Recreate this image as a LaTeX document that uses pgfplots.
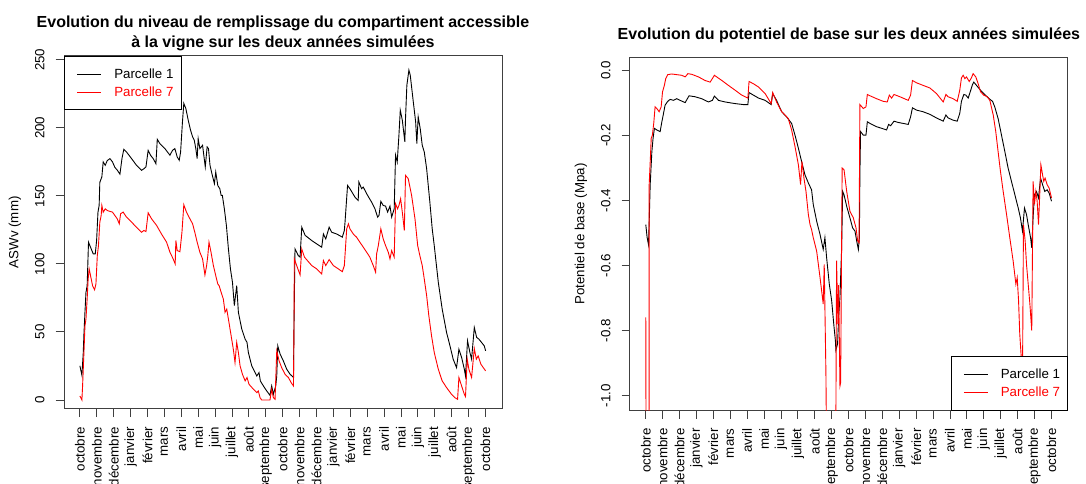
\documentclass[border=0pt]{standalone}
\usepackage{fontspec}
\setmainfont{Liberation Sans}
\usepackage{pgfplots}
\pgfplotsset{compat=1.18}
\newcommand{\fs}{\fontsize{13.3}{16}\selectfont}
\newcommand{\ft}{\fontsize{16}{20}\selectfont\bfseries}
\pgfplotsset{
 every axis title shift=0pt,
 rstyle/.style={
  scale only axis, width=438pt, height=353pt,
  xmin=-0.94, xmax=24.98,
  axis line style={black!75, line width=0.9pt},
  tick style={black!75, line width=0.9pt},
  tick align=outside, major tick length=8.3pt,
  xtick pos=left, ytick pos=left,
  xtick={0,...,24},
  xticklabels={octobre,novembre,décembre,janvier,février,mars,avril,mai,juin,juillet,août,septembre,octobre,novembre,décembre,janvier,février,mars,avril,mai,juin,juillet,août,septembre,octobre},
  xticklabel style={rotate=90, anchor=east, font=\fs, inner sep=0pt},
  yticklabel style={rotate=90, anchor=south, font=\fs, inner sep=0pt},
  xticklabel shift=9.6pt, yticklabel shift=10.9pt,
  ylabel style={font=\fs, inner sep=0pt, at={(axis description cs:-0.0973,0.5)}, anchor=south},
  legend style={draw=black, line width=0.8pt, fill=white, font=\fs,
    inner xsep=7.5pt, inner ysep=12.2pt, nodes={inner sep=0pt},
    row sep=6.9pt, column sep=12.4pt},
  legend cell align=left,
  legend image code/.code={\path (0pt,0pt); \draw[##1] (4.9pt,0pt)--(29.1pt,0pt);},
  every axis plot/.append style={line width=0.9pt},
 }
}
\begin{document}
\begin{tikzpicture}
\useasboundingbox (0,0) rectangle (1086pt,483pt);
\begin{axis}[rstyle, at={(64pt,74.2pt)}, anchor=south west,
  ymin=-6.5, ymax=253,
  ytick={0,50,100,150,200,250}, yticklabels={0,50,100,150,200,250},
  ylabel={ASWv (mm)},
  title={Evolution du niveau de remplissage du compartiment accessible\\à la vigne sur les deux années simulées},
  title style={font=\ft, align=center, inner sep=0pt, at={(0.5,1)}, anchor=south, yshift=4.9pt},
  legend style={at={(0,1)}, anchor=north west}]
\addplot[black] coordinates {
(0.0,25.1) (0.12,18.2) (0.20,34.9) (0.24,48.4) (0.30,64.4) (0.36,79.1) (0.43,84.0) (0.51,116) (0.59,113.5) (0.79,107.4) (0.91,107.4) (0.99,117.2) (1.07,138) (1.14,143) (1.18,160) (1.30,164) (1.38,175) (1.50,172.5) (1.62,176) (1.78,177.4) (1.93,175) (2.07,171) (2.21,169) (2.37,166) (2.49,177.4) (2.60,184.3) (2.76,182.3) (3.06,177.4) (3.35,172.5) (3.65,168.8) (3.79,170) (3.91,171.3) (4.04,183.5) (4.18,179.9) (4.34,177.4) (4.50,173.7) (4.58,191.6) (4.73,188.5) (5.03,184.8) (5.33,179.9) (5.48,183.5) (5.62,184.8) (5.76,178.6) (5.88,176.2) (5.96,182.3) (6.07,204.4) (6.15,218) (6.27,214.3) (6.41,205.7) (6.55,198.3) (6.67,193.4) (6.77,190.9) (6.86,184.8) (6.94,177.4) (7.00,192.1) (7.10,184.8) (7.26,187.2) (7.42,171.3) (7.53,186) (7.61,184.8) (7.70,172.5) (7.84,165) (7.96,159) (8.04,167.6) (8.16,157.7) (8.28,155.3) (8.36,150.4) (8.43,150.4) (8.55,140.5) (8.67,128.3) (8.79,111) (8.91,96.3) (9.03,86.5) (9.14,69.3) (9.28,84) (9.38,64.4) (9.58,52.1) (9.78,44.7) (9.89,42.3) (9.97,34.9) (10.17,25.1) (10.47,17.7) (10.60,20.1) (10.68,14) (10.86,10.3) (11.06,6.6) (11.25,3.4) (11.35,10.3) (11.45,4.2) (11.59,10.3) (11.65,17.7) (11.71,39.8) (11.85,33.7) (12.04,28.7) (12.24,22.6) (12.44,18.9) (12.64,16.5) (12.67,54.5) (12.73,111) (12.93,106) (13.03,105) (13.13,127) (13.33,121) (13.72,117.2) (14.02,114.7) (14.31,112.3) (14.41,122) (14.55,118.4) (14.75,127) (14.90,123.3) (15.20,122) (15.53,119.7) (15.65,124.6) (15.69,130.7) (15.84,157.7) (15.98,155.3) (16.28,149.1) (16.47,146.7) (16.51,160.2) (16.67,155.3) (16.77,156.5) (16.97,151.6) (17.26,145.5) (17.46,140.5) (17.62,134.4) (17.70,135.6) (17.81,146) (17.95,143) (18.09,142.5) (18.21,138.1) (18.35,142.5) (18.45,134.4) (18.60,140.5) (18.68,179.9) (18.78,175) (18.88,194.6) (18.96,213) (19.08,205.7) (19.23,189.7) (19.27,206.9) (19.35,231.4) (19.47,242.5) (19.55,238.8) (19.73,219.2) (19.87,204.4) (19.94,188.5) (20.02,208.1) (20.14,199.5) (20.26,187.2) (20.38,182.3) (20.52,170) (20.71,145.5) (20.85,125.8) (20.97,113.5) (21.21,86.5) (21.44,66.8) (21.70,49.6) (21.90,39.8) (22.09,30) (22.29,23.8) (22.43,37.3) (22.59,31.2) (22.75,22.6) (22.82,17.7) (22.94,43.5) (23.08,34.9) (23.18,30) (23.34,53.3) (23.48,46) (23.61,44.7) (23.77,42.3) (23.93,39.8) (24.01,36.1)
};
\addlegendentry{Parcelle 1}
\addplot[red] coordinates {
(0.0,2.9) (0.12,0) (0.16,10.3) (0.24,34.9) (0.30,54.5) (0.36,59.5) (0.43,74.2) (0.49,89) (0.55,96.3) (0.63,91.4) (0.75,84) (0.87,81) (0.95,85.3) (1.03,106) (1.10,113.5) (1.18,130.7) (1.26,135.6) (1.30,143) (1.38,138) (1.50,140.5) (1.62,139.3) (1.78,138.6) (1.93,138.1) (2.07,135.6) (2.21,133.2) (2.33,129.5) (2.41,136.9) (2.56,138.1) (2.76,134.4) (3.06,130.7) (3.35,127) (3.65,123.3) (3.79,124.6) (3.91,123.8) (4.04,137.6) (4.24,133.2) (4.54,128.3) (4.83,122) (5.13,116) (5.33,108.6) (5.52,103.7) (5.64,100) (5.68,117.2) (5.76,109.8) (5.92,109) (6.04,123.3) (6.15,143.5) (6.31,138) (6.51,133.2) (6.67,129.5) (6.80,123.3) (6.94,116) (7.10,108.6) (7.26,103.7) (7.40,91.9) (7.50,98.8) (7.57,106) (7.64,116) (7.76,108.6) (7.90,98.8) (8.04,91.4) (8.16,85.3) (8.24,84) (8.36,79.1) (8.49,74.2) (8.59,64.4) (8.69,66.8) (8.79,59.5) (8.95,47.2) (9.08,37.3) (9.18,27.5) (9.28,42.3) (9.38,34.9) (9.48,25.1) (9.62,18.9) (9.78,14) (9.89,16.5) (10.01,11.5) (10.27,7.9) (10.47,5.4) (10.56,6.6) (10.66,1.7) (10.76,0) (11.25,0) (11.35,7.9) (11.45,1.7) (11.55,0.5) (11.65,36.1) (11.79,28.7) (11.94,23.8) (12.14,18.9) (12.34,16.5) (12.50,12.8) (12.64,10.3) (12.67,54.5) (12.69,103.7) (12.83,98.8) (13.03,91.9) (13.13,111) (13.29,105) (13.72,98.8) (14.02,96.3) (14.31,92.6) (14.41,102.5) (14.55,98.8) (14.75,103.2) (15.00,98.8) (15.30,96.3) (15.53,94.3) (15.65,98.8) (15.79,125.8) (15.89,129.5) (15.98,125.8) (16.18,122) (16.37,119.7) (16.57,116) (16.77,112.3) (16.97,108.6) (17.16,105) (17.36,98.8) (17.50,93.9) (17.56,107.4) (17.66,113.5) (17.81,125.8) (17.95,118.4) (18.09,113.5) (18.25,108.6) (18.35,103.7) (18.45,109.8) (18.60,105) (18.68,144.2) (18.80,140.5) (18.88,143) (18.98,147.9) (19.08,138.1) (19.20,124.6) (19.27,165.1) (19.43,162.7) (19.63,150.4) (19.83,133.2) (19.99,113.5) (20.12,106) (20.26,98.8) (20.38,88.9) (20.52,76.7) (20.65,61.9) (20.81,47.2) (20.97,34.9) (21.21,22.6) (21.44,14) (21.70,9.1) (21.99,4.2) (22.19,1.7) (22.35,0.5) (22.43,16.5) (22.59,10.3) (22.75,4.2) (22.82,2.5) (22.92,30) (23.02,22.6) (23.18,16.5) (23.34,37.8) (23.46,30) (23.57,32.4) (23.73,26.3) (23.87,23.8) (24.01,21.4)
};
\addlegendentry[text=red]{Parcelle 7}
\end{axis}
\begin{axis}[rstyle, at={(629.9pt,72.6pt)}, anchor=south west,
  ymin=-1.045, ymax=0.04,
  ytick={-1,-0.8,-0.6,-0.4,-0.2,0}, yticklabels={-1.0,-0.8,-0.6,-0.4,-0.2,0.0},
  ylabel={Potentiel de base (Mpa)},
  title={Evolution du potentiel de base sur les deux années simulées},
  title style={font=\ft, inner sep=0pt, at={(0.5,1)}, anchor=base, yshift=18.3pt},
  legend style={at={(1,0)}, anchor=south east}]
\addplot[black] coordinates {
(0.0,-0.474) (0.08,-0.514) (0.16,-0.535) (0.20,-0.468) (0.26,-0.351) (0.32,-0.290) (0.36,-0.249) (0.43,-0.209) (0.51,-0.178) (0.65,-0.183) (0.85,-0.188) (0.95,-0.158) (1.05,-0.132) (1.14,-0.107) (1.30,-0.095) (1.44,-0.089) (1.64,-0.092) (1.83,-0.087) (2.03,-0.092) (2.33,-0.099) (2.56,-0.078) (2.92,-0.081) (3.31,-0.087) (3.71,-0.097) (3.94,-0.092) (4.06,-0.079) (4.30,-0.092) (4.69,-0.097) (5.29,-0.102) (5.78,-0.105) (6.04,-0.105) (6.11,-0.068) (6.37,-0.076) (6.67,-0.085) (7.06,-0.092) (7.42,-0.105) (7.51,-0.071) (7.74,-0.092) (8.04,-0.127) (8.34,-0.143) (8.63,-0.163) (8.83,-0.199) (9.03,-0.239) (9.22,-0.280) (9.42,-0.321) (9.62,-0.346) (9.81,-0.367) (9.91,-0.412) (10.11,-0.463) (10.31,-0.504) (10.50,-0.550) (10.60,-0.514) (10.70,-0.575) (10.86,-0.657) (11.00,-0.708) (11.14,-0.789) (11.22,-0.830) (11.25,-0.860) (11.35,-0.840) (11.41,-0.759) (11.49,-0.698) (11.59,-0.545) (11.65,-0.372) (11.73,-0.382) (11.89,-0.418) (12.08,-0.453) (12.24,-0.484) (12.38,-0.494) (12.48,-0.524) (12.58,-0.550) (12.64,-0.514) (12.67,-0.321) (12.71,-0.188) (12.87,-0.199) (13.03,-0.199) (13.11,-0.158) (13.27,-0.163) (13.66,-0.173) (13.96,-0.178) (14.25,-0.183) (14.37,-0.166) (14.49,-0.170) (14.69,-0.156) (14.94,-0.160) (15.24,-0.163) (15.53,-0.166) (15.67,-0.143) (15.78,-0.115) (16.02,-0.122) (16.41,-0.127) (16.81,-0.135) (17.20,-0.146) (17.60,-0.156) (17.76,-0.137) (17.89,-0.146) (18.19,-0.153) (18.43,-0.156) (18.58,-0.132) (18.68,-0.095) (18.82,-0.074) (18.94,-0.076) (19.08,-0.085) (19.21,-0.064) (19.33,-0.044) (19.41,-0.036) (19.57,-0.046) (19.81,-0.061) (20.06,-0.074) (20.32,-0.087) (20.52,-0.095) (20.65,-0.112) (20.85,-0.148) (21.05,-0.199) (21.25,-0.250) (21.44,-0.300) (21.64,-0.341) (21.84,-0.382) (22.04,-0.423) (22.17,-0.453) (22.29,-0.494) (22.41,-0.423) (22.53,-0.443) (22.63,-0.474) (22.77,-0.514) (22.84,-0.545) (22.92,-0.453) (23.00,-0.382) (23.12,-0.372) (23.24,-0.392) (23.36,-0.331) (23.48,-0.351) (23.61,-0.372) (23.75,-0.367) (23.87,-0.377) (24.01,-0.402)
};
\addlegendentry{Parcelle 1}
\addplot[red] coordinates {
(0.0,-0.759) (0.02,-1.3) (0.19,-1.3) (0.20,-0.351) (0.28,-0.26) (0.32,-0.209) (0.39,-0.199) (0.47,-0.163) (0.55,-0.112) (0.65,-0.117) (0.79,-0.127) (0.91,-0.112) (0.99,-0.066) (1.10,-0.046) (1.18,-0.025) (1.30,-0.013) (1.54,-0.011) (1.83,-0.013) (2.13,-0.015) (2.33,-0.020) (2.49,-0.010) (2.72,-0.012) (3.12,-0.020) (3.51,-0.031) (3.81,-0.036) (4.06,-0.015) (4.50,-0.031) (4.89,-0.046) (5.29,-0.061) (5.68,-0.076) (6.04,-0.085) (6.11,-0.034) (6.37,-0.041) (6.67,-0.051) (7.06,-0.071) (7.42,-0.102) (7.51,-0.068) (7.74,-0.097) (8.04,-0.127) (8.24,-0.137) (8.43,-0.148) (8.63,-0.183) (8.83,-0.234) (9.03,-0.290) (9.16,-0.351) (9.24,-0.280) (9.36,-0.331) (9.48,-0.372) (9.62,-0.443) (9.72,-0.474) (9.81,-0.489) (9.91,-0.514) (10.11,-0.555) (10.31,-0.636) (10.50,-0.718) (10.56,-0.596) (10.66,-0.932) (10.72,-1.3) (11.23,-1.3) (11.29,-0.585) (11.37,-0.78) (11.41,-0.66) (11.49,-0.97) (11.53,-0.96) (11.62,-0.30) (11.73,-0.305) (11.89,-0.372) (12.08,-0.433) (12.28,-0.453) (12.44,-0.484) (12.54,-0.524) (12.62,-0.530) (12.67,-0.105) (12.87,-0.117) (13.03,-0.112) (13.11,-0.074) (13.27,-0.078) (13.66,-0.087) (14.05,-0.095) (14.29,-0.097) (14.41,-0.076) (14.55,-0.085) (14.69,-0.074) (15.04,-0.081) (15.53,-0.092) (15.67,-0.076) (15.78,-0.031) (16.02,-0.038) (16.41,-0.046) (16.81,-0.054) (17.20,-0.071) (17.60,-0.097) (17.76,-0.074) (17.89,-0.081) (18.19,-0.087) (18.43,-0.095) (18.58,-0.061) (18.68,-0.023) (18.78,-0.015) (18.88,-0.025) (18.98,-0.020) (19.14,-0.034) (19.27,-0.023) (19.37,-0.010) (19.53,-0.020) (19.67,-0.041) (19.81,-0.066) (20.00,-0.076) (20.20,-0.081) (20.36,-0.092) (20.56,-0.137) (20.71,-0.188) (20.85,-0.250) (20.99,-0.311) (21.15,-0.372) (21.35,-0.443) (21.54,-0.514) (21.74,-0.586) (21.90,-0.657) (21.98,-0.637) (22.06,-0.708) (22.13,-0.810) (22.23,-0.891) (22.29,-0.96) (22.35,-0.474) (22.45,-0.524) (22.53,-0.596) (22.63,-0.657) (22.73,-0.718) (22.84,-0.800) (22.92,-0.341) (23.00,-0.412) (23.08,-0.372) (23.16,-0.402) (23.24,-0.474) (23.32,-0.372) (23.38,-0.290) (23.48,-0.321) (23.55,-0.341) (23.63,-0.331) (23.75,-0.351) (23.87,-0.362) (24.01,-0.392)
};
\addlegendentry[text=red]{Parcelle 7}
\end{axis}
\end{tikzpicture}
\end{document}
